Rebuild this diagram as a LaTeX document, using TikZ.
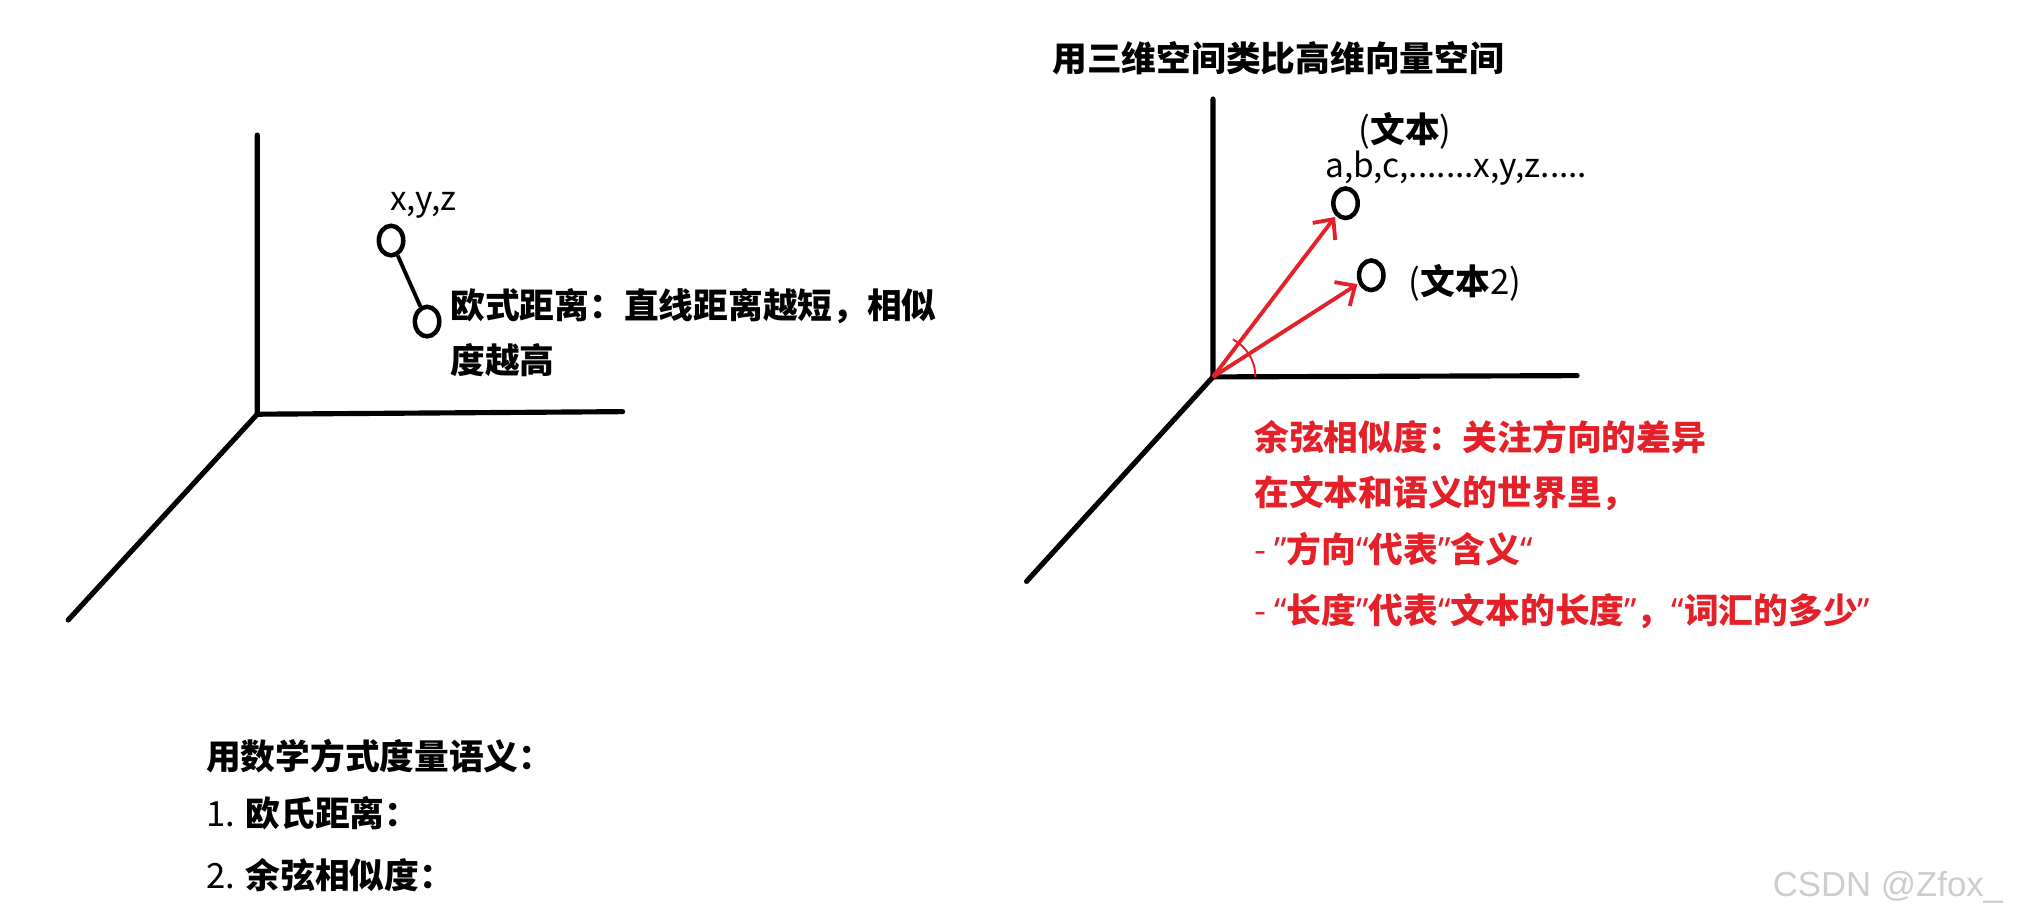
\documentclass[tikz,border=0pt]{standalone}
\usepackage{fontspec}
\setmainfont{Noto Sans CJK SC}
\newfontfamily\wmfont{Liberation Sans}
\newfontfamily\qtfont{Noto Sans}
\usepackage{xcolor}
\usetikzlibrary{arrows.meta, shapes.geometric}
\definecolor{penred}{RGB}{228,32,40}
\definecolor{wmgray}{RGB}{205,205,205}
\newcommand{\oq}{{\qtfont “}}
\newcommand{\cq}{{\qtfont ”}}

\begin{document}
\begin{tikzpicture}[x=1pt, y=-1pt,
		font=\fontsize{27}{27}\selectfont\bfseries,
		axis/.style={line width=4pt, line cap=round},
		dot/.style={draw, ellipse, line width=3.5pt, minimum width=19pt, minimum height=23pt, inner sep=0pt},
		vec/.style={penred, line width=3pt, shorten >=1pt, -{Straight Barb[length=12pt, width=22pt, line width=3pt]}},
		lbl/.style={anchor=west, inner sep=0pt},
		plain/.style={lbl, font=\fontsize{26}{26}\selectfont\mdseries},
		redtxt/.style={lbl, text=penred}]

	\useasboundingbox (0,0) rectangle (1568,718);

	% left: euclidean distance
	\begin{scope}
		\coordinate (lo) at (200,322);
		\draw[axis] (200,105) -- (lo) -- (484,320);
		\draw[axis] (lo) -- (53,482);

		\node[dot] (p1) at (304,187) {};
		\node[dot] (p2) at (332,250) {};
		\draw[line width=3pt] (p1) -- (p2);

		\node[plain] (xyz) at (303,160) {x,y,z};
		\node[lbl] (eu1) at (350,238) {欧式距离：直线距离越短，相似};
		\node[lbl] (eu2) at (350,280) {度越高};
	\end{scope}

	% right: cosine similarity
	\begin{scope}
		\node[lbl] (title) at (818,45) {用三维空间类比高维向量空间};

		\coordinate (ro) at (943,293);
		\draw[axis] (943,77) -- (ro) -- (1226,292);
		\draw[axis] (ro) -- (798,452);

		\node[dot] (v1) at (1046,158) {};
		\node[dot] (v2) at (1066,214) {};
		\node[lbl] (txt1) at (1056,102) {{\mdseries(}文本{\mdseries)}};
		\node[plain] (abc) at (1030,131) {a,b,c,.......x,y,z.....};
		\node[lbl] (txt2) at (1095,220) {{\mdseries(}文本{\mdseries 2)}};

		\draw[vec] (ro) -- (v1);
		\draw[vec] (ro) -- (v2);
		\draw[penred, line width=1.5pt] (ro) ++(0:33) arc (0:-62:33);

		\node[redtxt] (cos1) at (975,340) {余弦相似度：关注方向的差异};
		\node[redtxt] (cos2) at (975,383) {在文本和语义的世界里，};
		\node[redtxt] (cos3) at (975,427) {{\mdseries -} \cq 方向\oq 代表\cq 含义\oq};
		\node[redtxt] (cos4) at (975,475) {{\mdseries -} \oq 长度\cq 代表\oq 文本的长度\cq ，\oq 词汇的多少\cq};
	\end{scope}

	% bottom list
	\node[lbl] (sum) at (160,588) {用数学方式度量语义：};
	\node[lbl] (sum1) at (160,632) {{\mdseries 1.} 欧氏距离：};
	\node[lbl] (sum2) at (160,680) {{\mdseries 2.} 余弦相似度：};

	\node[lbl, font=\wmfont\fontsize{27}{27}\selectfont, text=wmgray] (wm) at (1378,690) {CSDN @Zfox\_};
\end{tikzpicture}
\end{document}
